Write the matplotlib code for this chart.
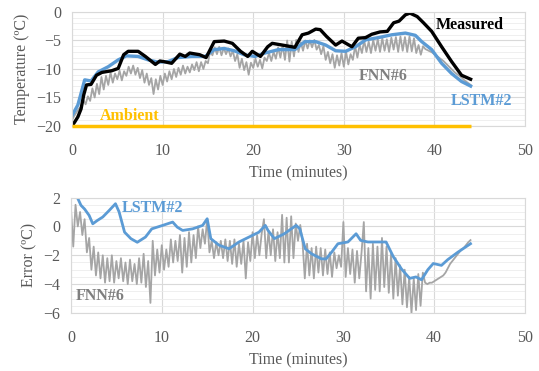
import numpy as np
import matplotlib
matplotlib.use("Agg")
import matplotlib.pyplot as plt
from matplotlib.ticker import MultipleLocator

plt.rcParams['font.family'] = ['Liberation Serif', 'DejaVu Serif']

# --- measured temperature (ºC) ---
meas_t = [0, 0.3, 0.65, 1.0, 1.3, 1.6, 2.1, 2.7, 3.3, 4.4, 5.1, 5.7, 6.2, 7.3, 8.1, 9.2, 9.7,
          10.1, 11.0, 11.9, 12.5, 13.0, 14.1, 14.8, 15.7, 16.8, 17.7, 18.6, 19.4, 19.9, 20.8,
          21.6, 22.1, 23.2, 24.6, 25.4, 26.1, 26.9, 27.4, 28.1, 29.1, 29.8, 30.9, 31.6, 32.4,
          33.1, 34.0, 34.8, 35.5, 36.1, 36.8, 37.3, 38.1, 38.8, 39.7, 40.8, 41.9, 43.0, 44.0]
meas = [-20, -19.3, -18.4, -17.0, -14.5, -12.8, -12.7, -11.1, -10.6, -10.3, -9.9, -7.5, -6.9,
        -6.9, -7.8, -9.2, -8.6, -8.7, -9.0, -7.4, -7.8, -7.2, -7.5, -8.0, -5.2, -5.1, -5.5,
        -6.9, -7.8, -6.9, -7.8, -6.1, -5.5, -5.8, -6.2, -4.0, -3.7, -3.0, -3.1, -4.3, -5.8,
        -5.1, -6.1, -4.6, -4.5, -3.9, -3.5, -3.4, -1.9, -1.6, -0.5, -0.2, -0.8, -1.9, -3.4,
        -6.1, -8.7, -11.1, -11.8]

# --- LSTM#2 prediction ---
lstm_t = [0, 0.65, 1.4, 2.1, 2.9, 4.0, 5.1, 6.0, 7.3, 8.4, 9.5, 10.6, 11.7, 13.2, 14.7, 15.7,
          16.8, 17.9, 19.0, 20.2, 21.3, 22.8, 24.6, 25.7, 26.9, 28.0, 29.1, 30.2, 31.3, 32.4,
          33.8, 35.3, 36.8, 37.9, 38.6, 39.7, 40.8, 41.9, 43.0, 44.0]
lstm = [-18.2, -16.3, -11.9, -12.1, -10.5, -9.6, -8.4, -7.7, -7.8, -8.4, -8.8, -8.7, -8.0,
        -7.8, -7.8, -6.6, -6.4, -6.8, -7.5, -7.8, -7.2, -6.6, -6.6, -5.2, -5.2, -5.8, -6.8,
        -6.9, -6.1, -4.9, -4.5, -4.0, -3.7, -4.1, -5.2, -6.6, -9.0, -10.8, -12.2, -13.0]

# --- FNN#6 prediction, sampled every 0.25 min ---
fnn_t = np.arange(0, 44.01, 0.25)
fnn = [-19.0, -18.2, -17.6, -17.0, -16.6, -15.4, -16.2, -14.8,
       -15.6, -13.4, -15.0, -12.6, -14.4, -11.4, -13.6, -11.2,
       -12.8, -10.6, -12.4, -10.8, -11.8, -10.3, -12.0, -10.4,
       -11.2, -9.6, -10.8, -9.4, -11.0, -9.8, -11.6, -10.2,
       -12.4, -10.8, -12.8, -11.6, -14.4, -11.8, -13.6, -11.2,
       -12.8, -10.8, -12.2, -10.4, -11.8, -10.0, -11.4, -9.8,
       -11.0, -9.4, -10.8, -9.6, -10.6, -9.2, -10.2, -8.8,
       -10.4, -8.8, -10.0, -8.6, -9.0, -6.8, -7.6, -6.2,
       -7.4, -6.1, -7.6, -6.3, -7.4, -6.4, -7.8, -6.8,
       -8.6, -7.4, -9.8, -8.2, -10.2, -8.8, -11.0, -8.9,
       -9.8, -8.2, -9.6, -8.4, -9.9, -8.0, -8.6, -7.2,
       -8.6, -7.0, -8.2, -6.2, -8.0, -5.8, -8.4, -5.0,
       -8.7, -5.2, -7.8, -4.9, -7.0, -5.3, -6.8, -5.0,
       -6.4, -5.0, -6.2, -4.9, -6.6, -5.8, -7.4, -6.0,
       -8.4, -7.0, -9.0, -7.4, -9.8, -7.6, -9.4, -7.2,
       -9.6, -7.0, -9.2, -7.4, -8.4, -6.0, -8.0, -5.8,
       -7.2, -5.0, -7.0, -5.2, -7.2, -4.9, -6.8, -4.8,
       -7.0, -4.6, -6.8, -4.8, -7.0, -4.5, -6.6, -4.4,
       -7.0, -4.3, -6.8, -4.4, -7.0, -4.3, -6.9, -4.6,
       -7.2, -5.8, -7.5, -6.0, -6.5, -6.7, -6.9, -7.1,
       -7.4, -7.7, -8.0, -8.3, -8.6, -9.0, -9.4, -9.8,
       -10.2, -10.6, -10.9, -11.2, -11.5, -11.9, -12.2, -12.5,
       -12.8]

ambient_t = [0, 44]
ambient = [-20, -20]

# --- prediction errors (ºC) ---
lstm_err_t = [0, 0.7, 1.1, 1.5, 2.0, 2.4, 2.9, 3.5, 4.2, 4.9, 5.3, 5.9, 6.6, 7.3, 8.2, 8.9,
              10.1, 11.2, 11.7, 12.3, 13.4, 14.5, 15.0, 15.4, 16.3, 17.4, 18.5, 19.6, 20.7,
              21.4, 21.7, 22.4, 23.5, 24.8, 25.2, 25.8, 26.5, 27.6, 28.1, 28.7, 29.4, 30.5,
              31.4, 31.9, 32.7, 33.8, 34.7, 35.5, 36.4, 37.3, 38.0, 38.6, 39.3, 39.9, 40.8,
              41.5, 42.6, 44.0]
lstm_err = [2.0, 2.0, 1.46, 1.2, 0.76, 0.18, 0.41, 0.65, 1.1, 1.57, 1.0, -0.4, -0.85, -1.1,
            -0.74, -0.17, 0.07, 0.3, -0.05, -0.28, -0.17, 0.07, 0.53, -0.85, -1.3, -1.55,
            -1.08, -0.74, -0.4, 0.07, -0.28, -0.85, -0.51, 0.07, -0.17, -1.55, -1.9, -2.25,
            -2.25, -1.79, -1.2, -1.08, -0.51, -0.97, -1.08, -1.08, -1.08, -2.1, -2.95, -3.6,
            -3.5, -3.7, -3.0, -2.57, -2.7, -2.3, -1.79, -1.2]

fnn_err = [1.2, -1.4, 1.5, 0.0, 1.0, -0.6, 0.5, -1.8,
           -0.8, -3.0, -1.4, -3.4, -1.8, -3.6, -2.0, -3.9,
           -2.2, -3.8, -2.0, -3.9, -2.4, -3.6, -2.2, -3.8,
           -2.5, -4.0, -2.3, -3.8, -2.6, -4.0, -2.2, -3.9,
           -1.9, -4.2, -2.4, -5.3, -1.0, -3.4, -1.6, -3.2,
           -1.3, -3.0, -1.6, -2.8, -0.9, -2.5, -1.0, -2.4,
           -0.6, -3.2, -0.8, -2.8, -0.4, -2.5, -0.6, -2.2,
           0.0, -1.5, -0.2, -1.2, 0.5, -1.8, -1.0, -2.2,
           -1.1, -2.0, -1.0, -2.2, -0.9, -2.4, -1.0, -2.6,
           -0.9, -2.8, -1.2, -2.6, -1.0, -3.6, -1.1, -2.4,
           -0.4, -2.2, -0.6, -2.0, -0.5, 0.5, -2.2, -0.3,
           -2.0, -0.2, -2.4, -0.4, -2.2, 0.8, -2.5, 0.6,
           -2.5, 0.7, -2.2, 0.2, -1.0, 0.1, -1.1, -3.6,
           -1.2, -3.4, -1.5, -3.6, -1.4, -3.2, -1.5, -3.4,
           -1.6, -3.3, -1.8, -3.5, -1.8, -2.9, -2.0, -2.8,
           0.3, -3.5, -1.5, -3.3, -1.6, -3.9, -1.7, -3.6,
           -1.8, 0.3, -4.5, -1.5, -5.0, -1.2, -4.4, -1.4,
           -4.5, -0.8, -4.2, -1.4, -4.6, -1.9, -5.0, -2.2,
           -4.8, -2.7, -5.4, -3.0, -5.6, -3.5, -6.0, -3.6,
           -5.8, -3.3, -5.5, -3.2, -3.9, -4.0, -3.9, -3.9,
           -3.8, -3.7, -3.6, -3.5, -3.4, -3.2, -2.9, -2.6,
           -2.4, -2.2, -2.0, -1.8, -1.6, -1.5, -1.3, -1.1,
           -0.95]

BLUE = '#5B9BD5'
GRAY = '#A5A5A5'
GOLD = '#FFC000'
TXT = '#595959'

fig = plt.figure(figsize=(5.39, 3.71), dpi=100)
ax1 = fig.add_axes([0.1336, 0.6604, 0.8404, 0.3073])
ax2 = fig.add_axes([0.1317, 0.1563, 0.8423, 0.3113])


def style(ax, major, minor, xlabelpad):
    ax.set_xlim(0, 50)
    ax.xaxis.set_major_locator(MultipleLocator(10))
    ax.yaxis.set_major_locator(MultipleLocator(major))
    ax.yaxis.set_minor_locator(MultipleLocator(minor))
    ax.grid(which='major', color='#D9D9D9', lw=0.8)
    ax.grid(which='minor', axis='y', color='#ECECEC', lw=0.6)
    ax.set_axisbelow(True)
    for s in ax.spines.values():
        s.set_color('#D9D9D9')
        s.set_linewidth(0.8)
    ax.tick_params(which='both', length=0, labelsize=11.5, labelcolor=TXT)
    ax.tick_params(axis='x', pad=12)
    ax.tick_params(axis='y', pad=8)
    ax.set_xlabel('Time (minutes)', fontsize=11.5, color=TXT, labelpad=xlabelpad)


# temperatures
ax1.plot(ambient_t, ambient, color=GOLD, lw=2.5, solid_capstyle='butt',
         clip_on=False, zorder=3)
ax1.plot(fnn_t, fnn, color=GRAY, lw=1.3)
ax1.plot(lstm_t, lstm, color=BLUE, lw=2.4)
ax1.plot(meas_t, meas, color='black', lw=2.4)
ax1.set_ylim(-20, 0)
style(ax1, 5, 1, 5)
ax1.set_ylabel('Temperature (ºC)', fontsize=11.5, color=TXT, labelpad=4)

ax1.text(40.2, -2.3, 'Measured', color='black', fontsize=11.5, fontweight='bold', va='center')
ax1.text(31.6, -11.3, 'FNN#6', color='#7F7F7F', fontsize=11.5, fontweight='bold', va='center')
ax1.text(41.8, -15.6, 'LSTM#2', color=BLUE, fontsize=11.5, fontweight='bold', va='center')
ax1.text(3.1, -18.3, 'Ambient', color=GOLD, fontsize=11.5, fontweight='bold', va='center')

# errors
ax2.plot(fnn_t, fnn_err, color=GRAY, lw=1.3)
ax2.plot(lstm_err_t, lstm_err, color=BLUE, lw=2.0)
ax2.set_ylim(-6, 2)
style(ax2, 2, 0.5, 5)
ax2.set_ylabel('Error (ºC)', fontsize=11.5, color=TXT, labelpad=4)

ax2.text(5.6, 1.27, 'LSTM#2', color=BLUE, fontsize=11.5, fontweight='bold', va='center')
ax2.text(0.55, -4.8, 'FNN#6', color='#7F7F7F', fontsize=11.5, fontweight='bold', va='center')

fig.savefig('out.png', dpi=100)
